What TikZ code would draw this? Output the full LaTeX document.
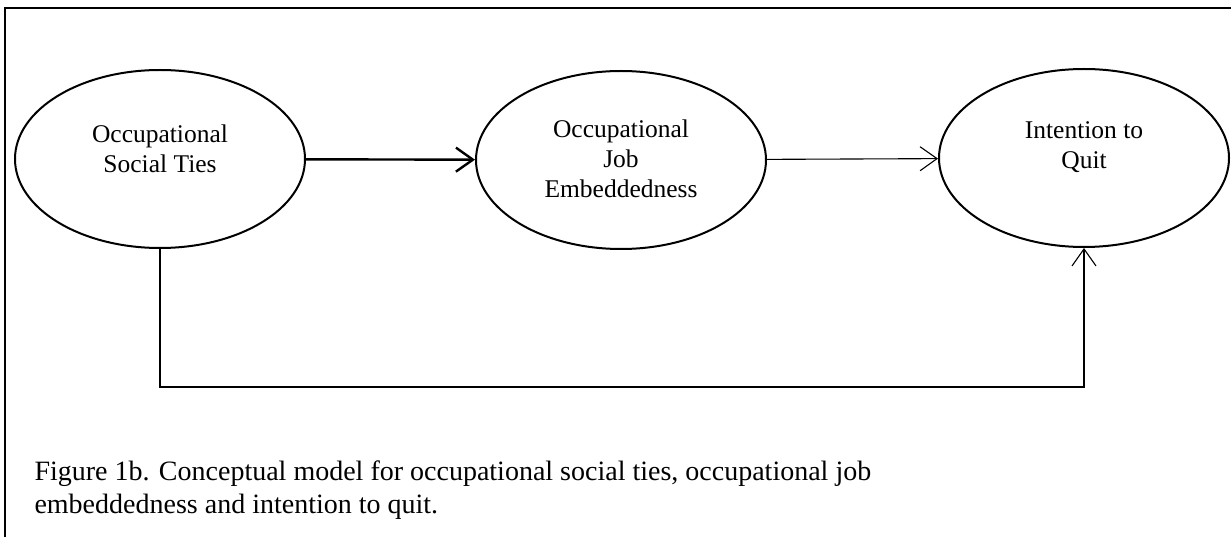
\documentclass[tikz,border=0pt]{standalone}
\usepackage{fontspec}
\setmainfont{Liberation Serif}
\usetikzlibrary{shapes.geometric,arrows.meta}
\begin{document}
\begin{tikzpicture}[x=1pt,y=-1pt,
  latent/.style={draw,ellipse,line width=2pt,minimum width=290pt,minimum height=178pt,inner sep=0pt},
  ltext/.style={align=center,font=\fontsize{25.5}{30}\selectfont},
  barb/.style={-{Straight Barb[length=17pt,width=24pt]}},
  thinline/.style={line width=1.1pt},
  thickline/.style={line width=2.4pt}]
\useasboundingbox (0,0) rectangle (1231,537);
\draw[line width=1.5pt] (5,560) -- (5,8) -- (1260,8);
\node[latent] (ots) at (160,159) {};
\node[latent] (oje) at (621,160) {};
\node[latent] (itq) at (1084,158) {};
\node[ltext] (t1) at (160,149) {Occupational\\Social Ties};
\node[ltext] (t2) at (621,159) {Occupational\\Job\\Embeddedness};
\node[ltext] (t3) at (1084,147) {Intention to\\Quit};
\draw[thickline,barb] (ots) -- (oje);
\draw[thinline,barb] (oje) -- (itq);
\coordinate (corner) at (160,387);
\draw[thinline,barb] (ots.south) -- (corner) -| (itq.south);
\node[anchor=west,align=left,font=\fontsize{28}{33}\selectfont] (cap) at (31,490)
  {Figure 1b. Conceptual model for occupational social ties, occupational job\\embeddedness and intention to quit.};
\end{tikzpicture}
\end{document}
